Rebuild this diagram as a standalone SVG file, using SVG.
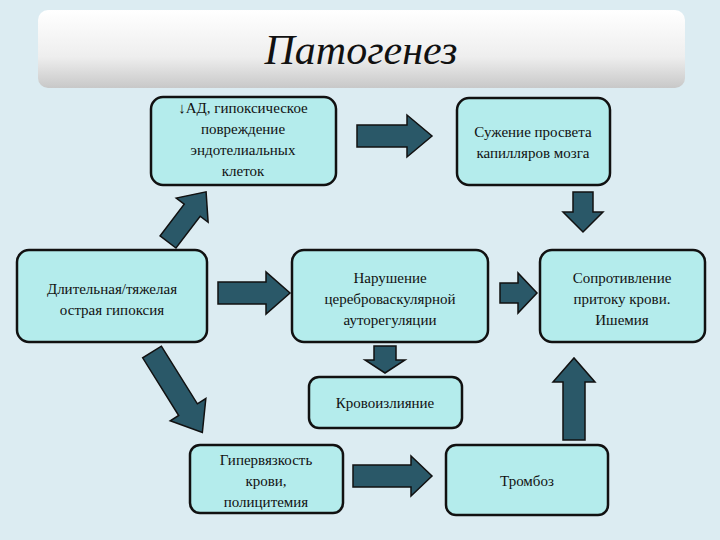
<svg xmlns="http://www.w3.org/2000/svg" width="720" height="540" viewBox="0 0 720 540" font-family="'Liberation Serif', 'DejaVu Serif', serif">
<defs>
<linearGradient id="tg" x1="0" y1="0" x2="0" y2="1"><stop offset="0" stop-color="#ffffff"/><stop offset="0.6" stop-color="#eeeeee"/><stop offset="1" stop-color="#c8c8c8"/></linearGradient>
<style>
.b{fill:#b4ecec;stroke:#111;stroke-width:2.5}
.a{fill:#2a5868;stroke:#111;stroke-width:1.5}
text{font-family:'Liberation Serif','DejaVu Serif',serif;font-size:15px;fill:#111;text-anchor:middle}
</style>
</defs>
<rect width="720" height="540" fill="#dcecf2"/>
<g id="title"><rect x="38" y="10" width="647" height="78" rx="10" fill="url(#tg)"/>
<text x="361" y="64" font-size="42" font-style="italic" style="font-size:42px;font-style:italic">Патогенез</text></g>
<g id="connectors">
<polygon class="a" transform="translate(357,136)" points="0,-11 50,-11 50,-21 75,0 50,21 50,11 0,11"/>
<polygon class="a" transform="translate(583,192) rotate(90)" points="0,-10 20,-10 20,-20 40,0 20,20 20,10 0,10"/>
<polygon class="a" transform="translate(168,242) rotate(-52.8)" points="0,-10 40,-10 40,-20 63,0 40,20 40,10 0,10"/>
<polygon class="a" transform="translate(218,293) rotate(0)" points="0,-11 48,-11 48,-21 72,0 48,21 48,11 0,11"/>
<polygon class="a" transform="translate(500,293)" points="0,-10 18,-10 18,-20 37,0 18,20 18,10 0,10"/>
<polygon class="a" transform="translate(385,346) rotate(90)" points="0,-11 14,-11 14,-20 27,0 14,20 14,11 0,11"/>
<polygon class="a" transform="translate(152,352) rotate(58)" points="0,-11 68,-11 68,-21 95,0 68,21 68,11 0,11"/>
<polygon class="a" transform="translate(353,476)" points="0,-11 58,-11 58,-20 79,0 58,20 58,11 0,11"/>
<polygon class="a" transform="translate(574,440) rotate(-90)" points="0,-11 58,-11 58,-21 82,0 58,21 58,11 0,11"/>
</g>
<g id="n1"><rect class="b" x="151" y="97" width="185" height="88" rx="12"/>
<text x="243" y="113">↓АД, гипоксическое</text><text x="243" y="134">повреждение</text><text x="243" y="155">эндотелиальных</text><text x="243" y="176">клеток</text></g>
<g id="n2"><rect class="b" x="457" y="98" width="153" height="87" rx="12"/>
<text x="533" y="137">Сужение просвета</text><text x="533" y="158">капилляров мозга</text></g>
<g id="n3"><rect class="b" x="17" y="250" width="190" height="92" rx="12"/>
<text x="112" y="294">Длительная/тяжелая</text><text x="112" y="315">острая гипоксия</text></g>
<g id="n4"><rect class="b" x="292" y="250" width="196" height="92" rx="12"/>
<text x="390" y="283">Нарушение</text><text x="390" y="304">цереброваскулярной</text><text x="390" y="325">ауторегуляции</text></g>
<g id="n5"><rect class="b" x="540" y="250" width="165" height="92" rx="12"/>
<text x="622" y="283">Сопротивление</text><text x="622" y="304">притоку крови.</text><text x="622" y="325">Ишемия</text></g>
<g id="n6"><rect class="b" x="309" y="377" width="153" height="51" rx="10"/>
<text x="385" y="408">Кровоизлияние</text></g>
<g id="n7"><rect class="b" x="190" y="445" width="153" height="68" rx="10"/>
<text x="266" y="465">Гипервязкость</text><text x="266" y="486">крови,</text><text x="266" y="507">полицитемия</text></g>
<g id="n8"><rect class="b" x="446" y="445" width="162" height="70" rx="10"/>
<text x="527" y="486">Тромбоз</text></g>
</svg>
